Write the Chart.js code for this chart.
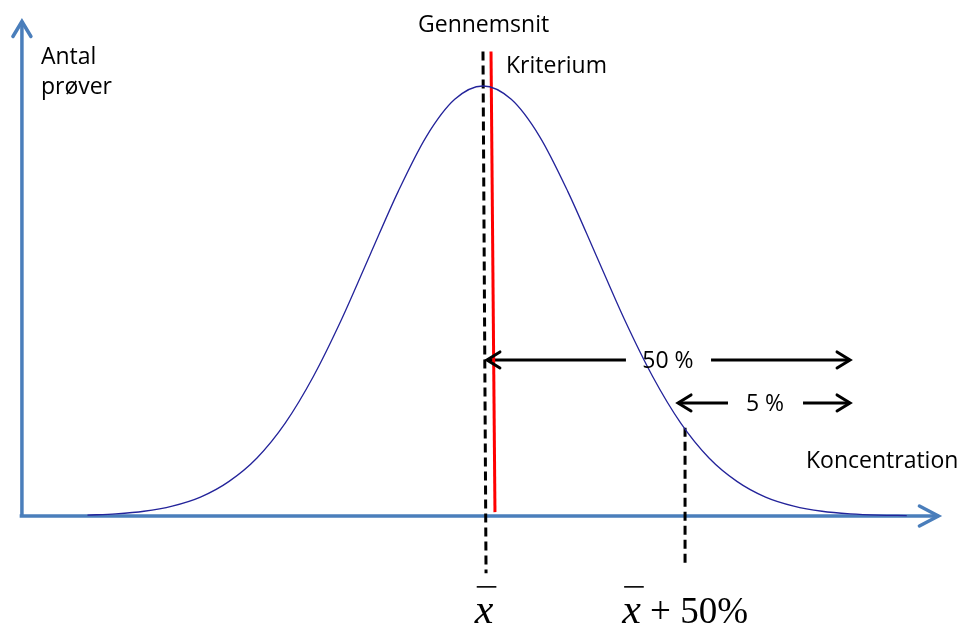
<!DOCTYPE html>
<html><head><meta charset="utf-8">
<script src="https://cdn.jsdelivr.net/npm/chart.js@4/dist/chart.umd.min.js"></script>
<style>html,body{margin:0;padding:0;background:#fff;overflow:hidden}canvas{display:block}</style>
</head><body><canvas id="c" width="967" height="625"></canvas>
<script>
// Normal-distribution curve (x in σ units from mean, y relative to peak)
const curveX = [-3.5,-3.25,-3,-2.75,-2.5,-2.25,-2,-1.75,-1.5,-1.25,-1,-0.75,-0.5,-0.25,0,0.25,0.5,0.75,1,1.25,1.5,1.75,2,2.25,2.5,2.75,3,3.25,3.5,3.75];
const curveY = [0.002,0.005,0.011,0.023,0.044,0.080,0.135,0.216,0.325,0.458,0.607,0.755,0.883,0.969,1.000,0.969,0.883,0.755,0.607,0.458,0.325,0.216,0.135,0.080,0.044,0.023,0.011,0.005,0.002,0.001];
// Axes
const yAxisX = [-4.08,-4.08];   const yAxisY = [0, 1.15];
const xAxisX = [-4.10, 4.03];   const xAxisY = [0, 0];
// Mean (Gennemsnit) dashed line, criterion (Kriterium) red line, mean+50% dashed line
const meanX = [0.00, 0.027];    const meanY = [1.08, -0.133];
const critX = [0.071, 0.106];   const critY = [1.08, 0.009];
const upperX = [1.788, 1.788];  const upperY = [0.205, -0.119];
// Double arrows (shaft broken around label)
const arrow50X = [0.035, 1.265, 2.018, 3.248]; const arrow50Y = 0.363;
const arrow5X  = [1.726, 2.168, 2.832, 3.248]; const arrow5Y  = 0.263;
// Labels
const labelTexts = ['Gennemsnit','Kriterium','Antal','prøver','Koncentration','50 %','5 %'];
const labelX = [-0.575, 0.2035, -3.912, -3.912, 2.858, 1.637, 2.496];
const labelY = [1.1256, 1.0302, 1.0512, 0.9814, 0.1116, 0.344, 0.244];
const labelAlign = ['left','left','left','left','left','center','center'];

const pts = (xs, ys) => xs.map((x, i) => ({x, y: Array.isArray(ys) ? ys[i] : ys}));
const AXIS = '#4a7ebb';
const seg = (data, color, width, order, dash) => ({data, borderColor: color, borderWidth: width, pointRadius: 0, showLine: true, fill: false, order, borderDash: dash || [], borderCapStyle: 'butt', tension: 0});

const datasets = [
  Object.assign(seg(pts(curveX, curveY), '#23239a', 1.3, 1), {cubicInterpolationMode: 'monotone'}),
  seg(pts(critX, critY), '#ff0000', 3, 2),
  seg(pts(arrow50X.slice(0,2), arrow50Y), '#000', 3, 3),
  seg(pts(arrow50X.slice(2,4), arrow50Y), '#000', 3, 3),
  seg(pts(arrow5X.slice(0,2), arrow5Y), '#000', 3, 3),
  seg(pts(arrow5X.slice(2,4), arrow5Y), '#000', 3, 3),
  seg(pts(meanX, meanY), '#000', 3, 4, [9, 5]),
  seg(pts(upperX, upperY), '#000', 3, 4, [9, 5]),
  seg(pts(xAxisX, xAxisY), AXIS, 3.5, 5),
  seg(pts(yAxisX, yAxisY), AXIS, 3.5, 5)
];

const deco = {
  id: 'deco',
  afterDatasetsDraw(chart) {
    const ctx = chart.ctx, xs = chart.scales.x, ys = chart.scales.y;
    const px = v => xs.getPixelForValue(v), py = v => ys.getPixelForValue(v);
    const head = (tx, ty, dx, dy, len, half, color, w) => {
      const nx = -dy, ny = dx;
      ctx.save(); ctx.strokeStyle = color; ctx.lineWidth = w; ctx.lineCap = 'round'; ctx.lineJoin = 'miter';
      ctx.beginPath();
      ctx.moveTo(tx - dx*len + nx*half, ty - dy*len + ny*half);
      ctx.lineTo(tx, ty);
      ctx.lineTo(tx - dx*len - nx*half, ty - dy*len - ny*half);
      ctx.stroke(); ctx.restore();
    };
    head(px(yAxisX[1]), py(yAxisY[1]), 0, -1, 15, 9, AXIS, 3.5);
    head(px(xAxisX[1]), py(xAxisY[1]), 1, 0, 19, 10, AXIS, 3.5);
    head(px(arrow50X[0]), py(arrow50Y), -1, 0, 13, 8, '#000', 3);
    head(px(arrow50X[3]), py(arrow50Y), 1, 0, 13, 8, '#000', 3);
    head(px(arrow5X[0]), py(arrow5Y), -1, 0, 13, 8, '#000', 3);
    head(px(arrow5X[3]), py(arrow5Y), 1, 0, 13, 8, '#000', 3);
    ctx.save();
    ctx.fillStyle = '#000'; ctx.textBaseline = 'alphabetic';
    ctx.font = '23px "Open Sans"';
    labelTexts.forEach((t, i) => {
      ctx.textAlign = labelAlign[i];
      ctx.fillText(t, px(labelX[i]), py(labelY[i]));
    });
    const base = py(-0.249);
    const xbar = (left, font) => {
      ctx.font = font; ctx.textAlign = 'left';
      ctx.fillText('x', left, base);
      const w = ctx.measureText('x').width;
      ctx.fillRect(left + 2, base - 37, w + 1, 1.6);
      return w;
    };
    const fItal = 'italic 42px "Liberation Serif"';
    const fReg = '37px "Liberation Serif"';
    ctx.font = fItal; const wx = ctx.measureText('x').width;
    xbar(px(meanX[1]) - wx/2 - 2, fItal);
    ctx.font = fReg; const wPlus = ctx.measureText(' + ').width, w50 = ctx.measureText('50%').width;
    const total = wx + wPlus + w50;
    let left = px(upperX[0]) - total/2;
    xbar(left, fItal);
    ctx.font = fReg; ctx.fillText(' + ', left + wx, base);
    ctx.fillText('50%', left + wx + wPlus, base);
    ctx.restore();
  }
};

new Chart(document.getElementById('c'), {
  type: 'scatter',
  data: {datasets},
  options: {
    responsive: false, animation: false, devicePixelRatio: 1,
    layout: {padding: 0},
    plugins: {legend: {display: false}, tooltip: {enabled: false}},
    scales: {
      x: {type: 'linear', min: -4.274, max: 4.283, display: false},
      y: {type: 'linear', min: -0.2535, max: 1.2, display: false}
    }
  },
  plugins: [deco]
});
</script></body></html>
